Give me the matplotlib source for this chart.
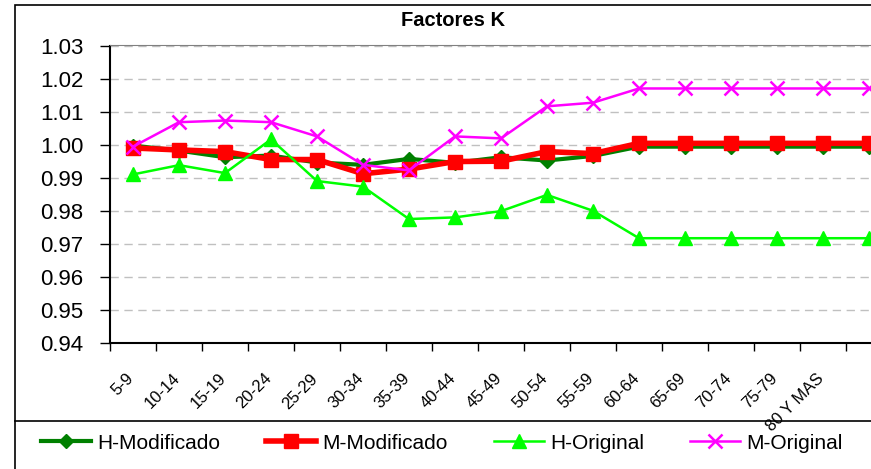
import matplotlib
matplotlib.use("Agg")
import matplotlib.pyplot as plt
from matplotlib.patches import Rectangle
from matplotlib.lines import Line2D
import matplotlib.transforms as mtransforms
import numpy as np

plt.rcParams['font.family'] = ['Liberation Sans', 'DejaVu Sans']

categories = ["5-9", "10-14", "15-19", "20-24", "25-29", "30-34", "35-39",
              "40-44", "45-49", "50-54", "55-59", "60-64", "65-69", "70-74",
              "75-79", "80 Y MAS", ""]

h_modificado = [0.9997, 0.9982, 0.9962, 0.9967, 0.9946, 0.9939, 0.9957,
                0.9945, 0.9962, 0.9952, 0.9966, 0.9994, 0.9994, 0.9994,
                0.9994, 0.9994, 0.9994]
m_modificado = [0.9990, 0.9984, 0.9979, 0.9955, 0.9955, 0.9912, 0.9926,
                0.9949, 0.9950, 0.9979, 0.9973, 1.0004, 1.0004, 1.0004,
                1.0004, 1.0004, 1.0004]
h_original = [0.9910, 0.9938, 0.9914, 1.0016, 0.9890, 0.9873, 0.9775,
              0.9780, 0.9799, 0.9848, 0.9800, 0.9717, 0.9717, 0.9717,
              0.9717, 0.9717, 0.9717]
m_original = [0.9994, 1.0068, 1.0073, 1.0068, 1.0025, 0.9939, 0.9922,
              1.0025, 1.0019, 1.0116, 1.0127, 1.0170, 1.0170, 1.0170,
              1.0170, 1.0170, 1.0170]

yticks = [0.94, 0.95, 0.96, 0.97, 0.98, 0.99, 1.00, 1.01, 1.02, 1.03]
title = "Factores K"

W, H = 871, 469
fig = plt.figure(figsize=(W / 100, H / 100), dpi=100)

# outer chart frame
fig.add_artist(Rectangle((15 / W, -0.1), 1.2, 1.1 - 5 / H,
                         transform=fig.transFigure, fill=False,
                         edgecolor='black', lw=1.2, zorder=0))
# legend box top line
fig.add_artist(Line2D([15 / W, 1.0], [1 - 421 / H, 1 - 421 / H],
                      transform=fig.transFigure, color='black', lw=1.2))

n = len(categories)
x = np.arange(n)
left_px, top_px, bottom_px = 110, 45.5, 343
step_px = 46
ax = fig.add_axes([left_px / W, 1 - bottom_px / H,
                   n * step_px / W, (bottom_px - top_px) / H])

ax.plot(x, h_modificado, color='#008000', lw=3, marker='D', ms=7.5,
        label='H-Modificado', zorder=3)
ax.plot(x, m_modificado, color='#ff0000', lw=4, marker='s', ms=9.5,
        label='M-Modificado', zorder=4)
ax.plot(x, h_original, color='#00ff00', lw=1.8, marker='^', ms=10,
        label='H-Original', zorder=5)
ax.plot(x, m_original, color='#ff00ff', lw=1.8, marker='x', ms=10,
        mew=1.8, label='M-Original', zorder=6)

ax.set_xlim(-0.5, n - 0.5)
ax.set_ylim(0.94, 1.03)
ax.set_yticks(yticks)
ax.set_yticklabels([f"{v:.2f}" for v in yticks], fontsize=16)
ax.yaxis.grid(True, color='#c0c0c0', ls=(0, (6, 4)), lw=1)
ax.set_axisbelow(True)

ax.set_xticks(x)
ax.set_xticklabels(categories, rotation=45, ha='right', va='top',
                   rotation_mode='anchor', fontsize=12)
ax.set_xticks(np.arange(n + 1) - 0.5, minor=True)
ax.tick_params(axis='x', which='major', length=0, pad=20)
ax.tick_params(axis='x', which='minor', length=6, width=1, direction='out')
ax.tick_params(axis='y', which='major', length=7, width=1, direction='out',
               pad=12)
offset = mtransforms.ScaledTranslation(-7 / 100, 0, fig.dpi_scale_trans)
for lab in ax.get_xticklabels():
    lab.set_transform(lab.get_transform() + offset)

ax.spines['top'].set_color('#808080')
ax.spines['right'].set_visible(False)
ax.spines['left'].set_linewidth(1.5)
ax.spines['bottom'].set_linewidth(1.5)

fig.text(453 / W, 1 - 21 / H, title, ha='center', va='center',
         fontsize=14.5, fontweight='bold')

handles, labels = ax.get_legend_handles_labels()
fig.legend(handles, labels, loc='center left',
           bbox_to_anchor=(41 / W, 1 - 443 / H), ncol=4, frameon=False,
           fontsize=15, handlelength=2.4, handletextpad=0.3,
           columnspacing=2.2, borderaxespad=0, borderpad=0)

fig.savefig("out.png", dpi=100)
